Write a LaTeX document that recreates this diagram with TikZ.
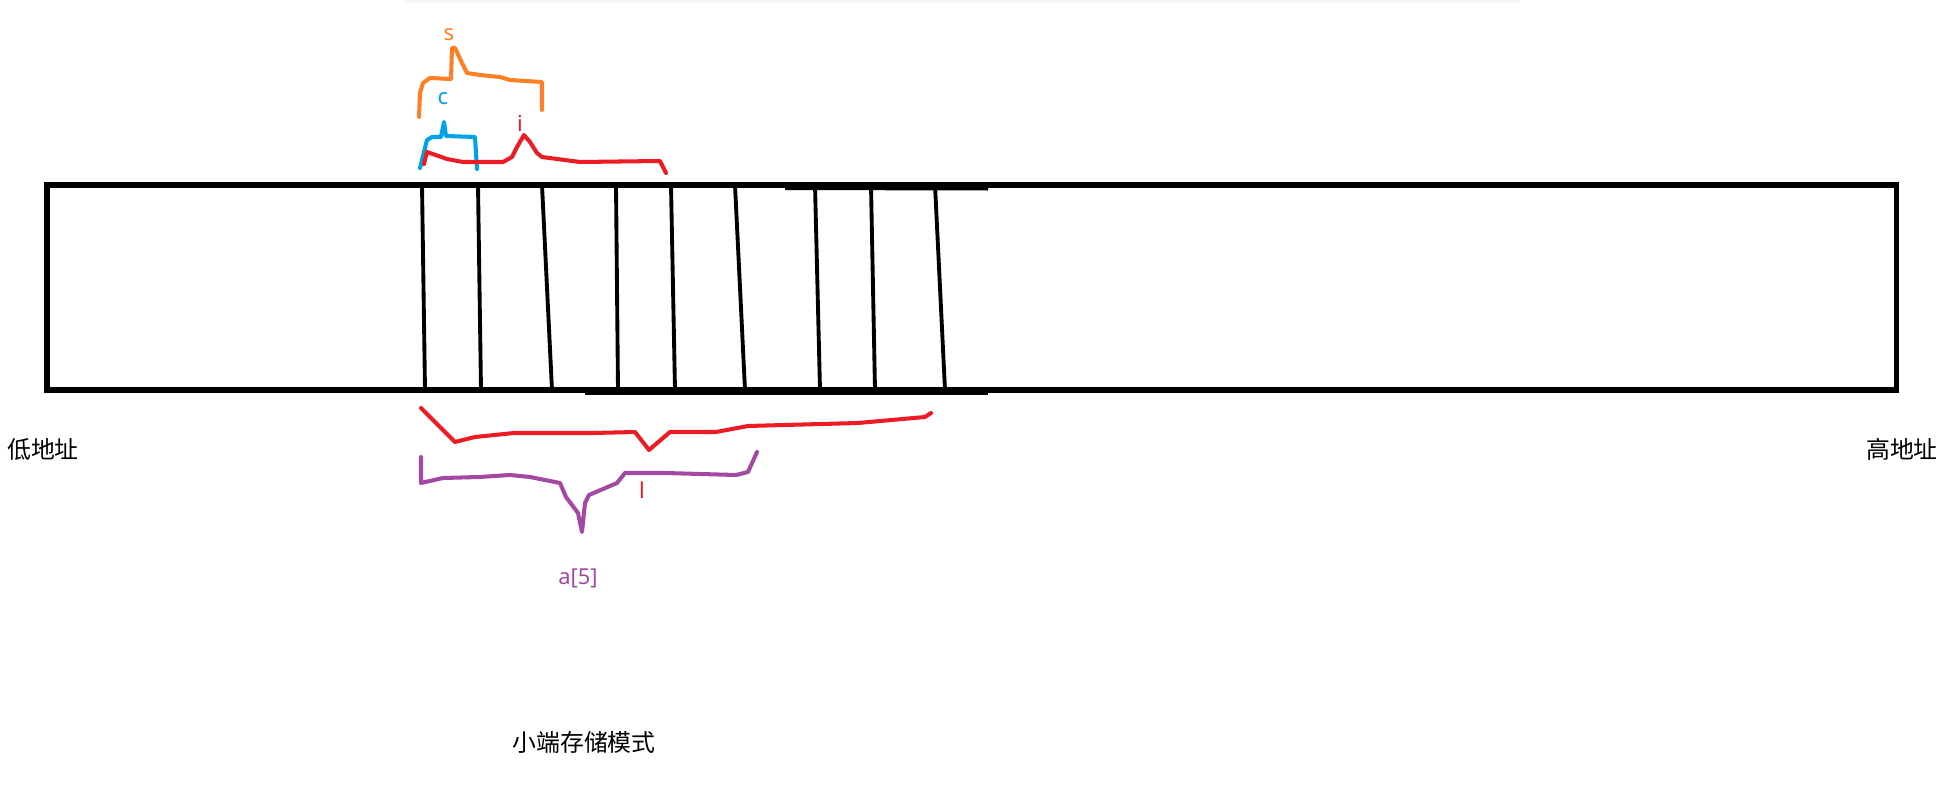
\documentclass[tikz,border=0pt]{standalone}
\usepackage{fontspec}
\setmainfont{Noto Sans}
\newfontfamily\cjk{Noto Sans CJK SC}
\usepackage{tikz}
\usetikzlibrary{positioning}
\usepackage{xcolor}
\definecolor{paintred}{HTML}{ED1C24}
\definecolor{paintorange}{HTML}{FF7F27}
\definecolor{paintblue}{HTML}{00A2E8}
\definecolor{paintpurple}{HTML}{A349A4}

\begin{document}
\begin{tikzpicture}[
    x=0.02cm, y=-0.02cm,
    memline/.style={line width=2.85pt},
    cell/.style={line width=2.2pt},
    brace/.style={line width=2.3pt, line join=round, line cap=round},
    varlabel/.style={font=\fontsize{12.5}{14}\selectfont, inner sep=0pt},
    addr/.style={font=\cjk\fontsize{13.6}{16}\selectfont, inner sep=0pt}
]
\useasboundingbox (0,0) rectangle (1952,797);

% Faint shadow at the top
\fill[black!3] (405,0) rectangle (1520,3);

% Memory strip
\draw[memline] (47,185) rectangle (1896,390);
\draw[memline] (785,187.5) -- (988,188);
\draw[memline] (585,392) -- (785,392);
\draw[memline] (785,392.5) -- (988,392.5);

% Byte cells
\foreach \xt/\xb in {422/425, 478/481, 542/552, 616/618, 671/675, 735/745, 815/820, 871/875, 935/945} {
    \draw[cell] (\xt,185) -- (\xb,390);
}

% Members above the strip
\draw[brace, paintorange] (419,117) -- (420,93) -- (423,83) -- (430,78) -- (451,79)
    -- (452,48) -- (455,48) -- (462,63) -- (467,73) -- (480,75) -- (500,77)
    -- (510,80) -- (542,82) -- (542,110);
\node[varlabel, text=paintorange] (s) at (449,35) {s};

\draw[brace, paintblue] (420,168) -- (427,140) -- (432,137) -- (441,137)
    -- (444,122) -- (446,136) -- (475,137) -- (477,169);
\node[varlabel, text=paintblue] (c) at (443,99) {c};

\draw[brace, paintred] (424,164) -- (427,152) -- (447,159) -- (463,162)
    -- (503,162) -- (512,157) -- (517,147) -- (524,135) -- (530,142)
    -- (537,153) -- (542,157) -- (580,162) -- (660,161) -- (666,173);
\node[varlabel, text=paintred] (i) at (520,123) {i};

% Members below the strip
\draw[brace, paintred] (421,408) -- (455,442) -- (475,437) -- (514,433)
    -- (593,433) -- (635,432) -- (649,450) -- (670,432) -- (716,432)
    -- (748,426) -- (858,423) -- (925,417) -- (931,413);
\node[varlabel, text=paintred] (l) at (642,490) {l};

\draw[brace, paintpurple] (421,457) -- (421,483) -- (443,478) -- (479,477)
    -- (510,475) -- (530,477) -- (560,483) -- (566,497) -- (578,513)
    -- (582,532) -- (585,503) -- (589,495) -- (617,483) -- (625,473)
    -- (665,473) -- (736,475) -- (748,472) -- (757,452);
\node[varlabel, text=paintpurple] (arr) at (578,578) {a[5]};

% Address labels
\node[addr] (low) at (43,449) {低地址};
\node[addr] (high) at (1902,449) {高地址};
\node[addr] (mode) at (584,742) {小端存储模式};

\end{tikzpicture}
\end{document}
